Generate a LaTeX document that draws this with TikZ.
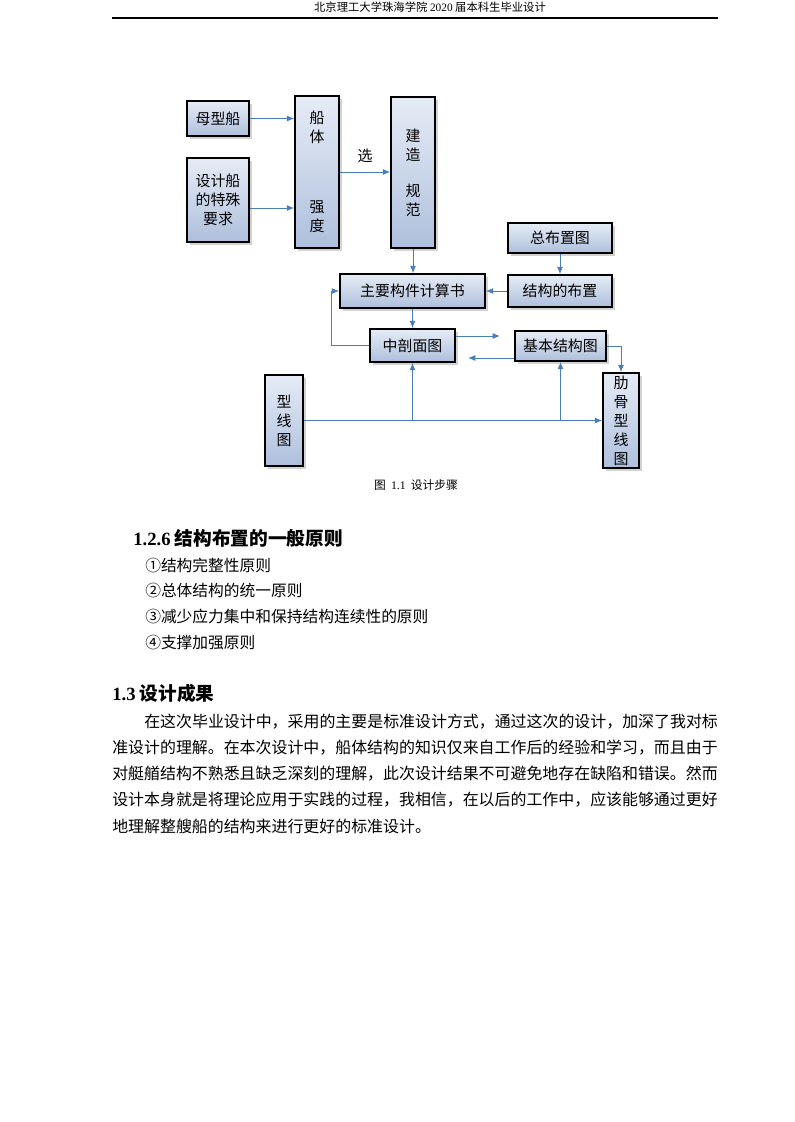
\documentclass[tikz,border=0pt]{standalone}
\usepackage{fontspec}
\setmainfont{Noto Sans CJK SC}
\newfontfamily\lat{Liberation Serif}
\usetikzlibrary{shadows,arrows.meta,calc}
\definecolor{arrowblue}{HTML}{4A7EBB}
\definecolor{boxtop}{HTML}{E6ECF6}
\definecolor{boxbot}{HTML}{AEBFDC}
\tikzset{
  box/.style={draw=black, line width=1.2pt, top color=boxtop, bottom color=boxbot,
    drop shadow={shadow xshift=2pt, shadow yshift=-2pt, opacity=0.35, fill=gray},
    inner sep=0pt, align=center, font=\fontsize{11.2}{14.25}\selectfont},
  arr/.style={draw=arrowblue, line width=0.7pt, -{Latex[length=5.5pt,width=4.5pt]}},
  txt/.style={anchor=west, inner sep=0pt, font=\fontsize{11.8}{14}\selectfont},
  para/.style={anchor=west, inner sep=0pt, font=\fontsize{11.95}{14}\selectfont},
}
\begin{document}
\begin{tikzpicture}[x=0.75pt,y=-0.75pt]
\useasboundingbox (0,0) rectangle (794,1122);
\fill[white] (0,0) rectangle (794,1122);
% header
\node[inner sep=0pt, font=\fontsize{8.5}{10}\selectfont] (hdr) at (430,7) {北京理工大学珠海学院 {\lat 2020} 届本科生毕业设计};
\draw[line width=0.8pt] (112,18) -- (718,18);
% boxes
\node[box, minimum width=62*0.75pt, minimum height=35*0.75pt] (mx) at (218,118.5) {母型船};
\node[box, minimum width=62*0.75pt, minimum height=84*0.75pt] (sj) at (218,200) {设计船\\的特殊\\要求};
\node[box, minimum width=44*0.75pt, minimum height=152*0.75pt] (ct) at (317,172) {船\\体\\[38pt]强\\度};
\node[box, minimum width=44*0.75pt, minimum height=151*0.75pt] (jz) at (413,172.5) {建\\造\\[12.5pt]规\\范};
\node[box, minimum width=104*0.75pt, minimum height=30*0.75pt] (zb) at (560,238) {总布置图};
\node[box, minimum width=145*0.75pt, minimum height=34*0.75pt] (zy) at (412.5,291) {主要构件计算书};
\node[box, minimum width=104*0.75pt, minimum height=32*0.75pt] (jg) at (560,291) {结构的布置};
\node[box, minimum width=85*0.75pt, minimum height=33*0.75pt] (zp) at (412.5,345.5) {中剖面图};
\node[box, minimum width=91*0.75pt, minimum height=30*0.75pt] (jb) at (560.5,346) {基本结构图};
\node[box, minimum width=38*0.75pt, minimum height=91*0.75pt] (xx) at (284,420.5) {型\\线\\图};
\node[box, minimum width=36*0.75pt, minimum height=95*0.75pt] (lg) at (621,420.5) {肋\\骨\\型\\线\\图};
% helper coordinates
\coordinate (s1) at ($(sj.east)+(0,8)$);
\coordinate (e1) at (500,336);
\coordinate (e2) at (468,358);
% connectors
\draw[arr] (mx.east) -- (mx.east -| ct.west);
\draw[arr] (s1) -- (s1 -| ct.west);
\draw[arr] (ct.east) -- node[above=7pt, inner sep=0pt, font=\fontsize{11.2}{13}\selectfont] (xuan) {选} (ct.east -| jz.west);
\draw[arr] (jz.south) -- (jz.south |- zy.north);
\draw[arr] (zb.south) -- (jg.north);
\draw[arr] (jg.west) -- (zy.east);
\draw[arr] (zy.south) -- (zp.north);
\draw[arr] (zp.west) -- ++(-38,0) |- (zy.west);
\draw[arr] (e1 -| zp.east) -- (e1);
\draw[arr] (e2 -| jb.west) -- (e2);
\draw[arr] (jb.east) -| (lg.north);
\draw[arr] (xx.east) -- (lg.west);
\draw[arr] (xx.east -| zp.south) -- (zp.south);
\draw[arr] (xx.east -| jb.south) -- (jb.south);
% caption
\node[inner sep=0pt, font=\fontsize{8.8}{10}\selectfont] (cap) at (416,485) {图\ \ {\lat 1.1}\ \ 设计步骤};
% section 1.2.6
\node[txt, font=\fontsize{14}{16}\selectfont\bfseries] (h1) at (133,538) {{\lat\bfseries 1.2.6} 结构布置的一般原则};
\node[txt] (i1) at (145,565) {①结构完整性原则};
\node[txt] (i2) at (145,591) {②总体结构的统一原则};
\node[txt] (i3) at (145,617) {③减少应力集中和保持结构连续性的原则};
\node[txt] (i4) at (145,643) {④支撑加强原则};
% section 1.3
\node[txt, font=\fontsize{14}{16}\selectfont\bfseries] (h2) at (112,693) {{\lat\bfseries 1.3} 设计成果};
\node[para] (p1) at (144,722) {在这次毕业设计中，采用的主要是标准设计方式，通过这次的设计，加深了我对标};
\node[para] (p2) at (112,748) {准设计的理解。在本次设计中，船体结构的知识仅来自工作后的经验和学习，而且由于};
\node[para] (p3) at (112,774) {对艇艏结构不熟悉且缺乏深刻的理解，此次设计结果不可避免地存在缺陷和错误。然而};
\node[para] (p4) at (112,800) {设计本身就是将理论应用于实践的过程，我相信，在以后的工作中，应该能够通过更好};
\node[para] (p5) at (112,826) {地理解整艘船的结构来进行更好的标准设计。};
\end{tikzpicture}
\end{document}
